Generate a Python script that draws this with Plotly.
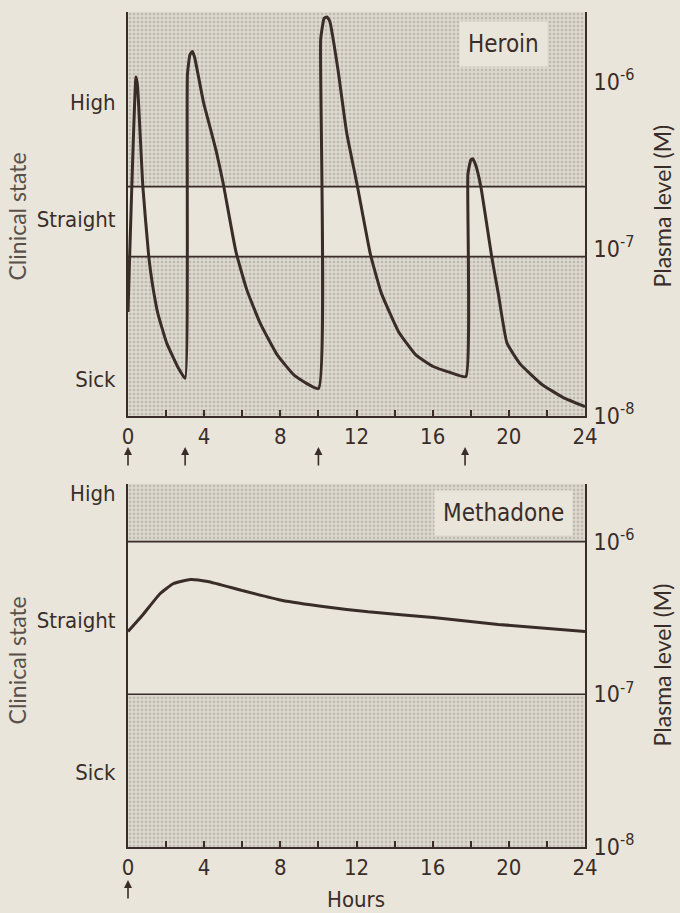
import numpy as np
import plotly.graph_objects as go

# ---------------- data ----------------
heroin_hours = [0.0, 0.42, 0.5, 0.78, 1.09, 1.28, 1.57, 2.03, 2.60, 3.0,
                3.12, 3.25, 3.38, 3.5, 3.96, 4.3, 4.64, 4.99, 5.67, 6.24, 6.92, 7.83, 8.74, 10.0,
                10.12, 10.3, 10.45, 10.6, 11.02, 11.48, 12.04, 12.73, 13.3, 14.2, 15.1, 16.03, 16.94, 17.74,
                17.85, 18.0, 18.1, 18.25, 18.53, 19.1, 19.44, 19.9, 20.58, 21.72, 22.86, 24.0]
heroin_plasma = [4.2e-8, 1.07e-6, 9.5e-7, 2.36e-7, 9.0e-8, 6.2e-8, 4.1e-8, 2.74e-8, 1.98e-8, 1.68e-8,
                 1.1e-6, 1.45e-6, 1.52e-6, 1.4e-6, 7.6e-7, 5.4e-7, 3.82e-7, 2.5e-7, 9.6e-8, 5.69e-8, 3.64e-8, 2.33e-8, 1.75e-8, 1.46e-8,
                 1.8e-6, 2.4e-6, 2.45e-6, 2.3e-6, 1.2e-6, 5.0e-7, 2.4e-7, 9.3e-8, 5.46e-8, 3.21e-8, 2.33e-8, 1.98e-8, 1.82e-8, 1.72e-8,
                 2.8e-7, 3.4e-7, 3.47e-7, 3.2e-7, 2.36e-7, 9.0e-8, 5.46e-8, 2.74e-8, 2.06e-8, 1.55e-8, 1.29e-8, 1.14e-8]
heroin_doses = [0, 3, 10, 17.7]

methadone_hours = [0, 0.77, 1.68, 2.37, 3.28, 4.19, 6.01, 8.06, 10.34, 12.61, 16.03, 19.44, 24]
methadone_plasma = [2.58e-7, 3.31e-7, 4.56e-7, 5.3e-7, 5.65e-7, 5.48e-7, 4.78e-7, 4.13e-7,
                    3.74e-7, 3.47e-7, 3.19e-7, 2.87e-7, 2.58e-7]
methadone_doses = [0]

# plasma-level axis limits and clinical-state thresholds (M)
heroin_limits = [1e-8, 2.62e-6]
heroin_thresholds = [9.0e-8, 2.36e-7]      # sick / straight / high boundaries
methadone_limits = [1e-8, 2.39e-6]
methadone_thresholds = [1e-7, 1e-6]

states = ["High", "Straight", "Sick"]
heroin_state_pos = [7.6e-7, 1.5e-7, 1.66e-8]
methadone_state_pos = [2.06e-6, 3.05e-7, 3.1e-8]

plasma_ticks = [1e-8, 1e-7, 1e-6]
plasma_ticktext = ["10<sup>-8</sup>", "10<sup>-7</sup>", "10<sup>-6</sup>"]
hour_ticks = [0, 4, 8, 12, 16, 20, 24]
hour_range = [0, 24]

# ---------------- style ----------------
PAPER = "#e9e5da"
INK = "#3a2d29"
STIPPLE = dict(shape=".", bgcolor="#dcd8cd", fgcolor="#9f9a91", size=4, solidity=0.35)
FONT = "Liberation Sans Narrow, DejaVu Sans Condensed, Arial Narrow, sans-serif"
TITLEFONT = "Lato, Open Sans, DejaVu Sans, sans-serif"

fig = go.Figure()


def add_panel(hours, plasma, limits, thr, xa, ya, ya_left):
    lo, hi = limits
    x0, x1 = hour_range
    # sick band
    fig.add_trace(go.Scatter(x=[x0, x1, x1, x0, x0], y=[lo, lo, thr[0], thr[0], lo],
                             fill="toself", fillcolor="#dcd8cd", fillpattern=STIPPLE,
                             mode="none", xaxis=xa, yaxis=ya, hoverinfo="skip"))
    # high band
    fig.add_trace(go.Scatter(x=[x0, x1, x1, x0, x0], y=[thr[1], thr[1], hi, hi, thr[1]],
                             fill="toself", fillcolor="#dcd8cd", fillpattern=STIPPLE,
                             mode="none", xaxis=xa, yaxis=ya, hoverinfo="skip"))
    # threshold lines (drawn on the clinical-state axis, same scale)
    for t in thr:
        fig.add_trace(go.Scatter(x=[x0, x1], y=[t, t], mode="lines",
                                 line=dict(color=INK, width=1.6), xaxis=xa, yaxis=ya_left,
                                 hoverinfo="skip"))
    # curve
    fig.add_trace(go.Scatter(x=hours, y=plasma, mode="lines",
                             line=dict(color=INK, width=3, shape="spline", smoothing=0.4),
                             xaxis=xa, yaxis=ya_left))


add_panel(heroin_hours, heroin_plasma, heroin_limits, heroin_thresholds, "x", "y", "y3")
add_panel(methadone_hours, methadone_plasma, methadone_limits, methadone_thresholds, "x2", "y2", "y4")

# layout geometry (pixels -> paper)
W, H = 680, 913
ML, MR, MT, MB = 128, 95, 10, 66
PH = H - MT - MB


def py(px):
    return (H - MB - px) / PH


def pxx(px):
    return (px - ML) / (W - ML - MR)


xaxis_common = dict(range=hour_range, tickvals=hour_ticks, ticks="inside", ticklen=6,
                    tickwidth=1.5, tickcolor=INK, showline=True, linecolor=INK, linewidth=2,
                    showgrid=False, zeroline=False, mirror=False,
                    minor=dict(dtick=2, ticks="inside", ticklen=6, tickwidth=1.5, tickcolor=INK, showgrid=False),
                    tickfont=dict(family=FONT, size=22, color=INK), ticklabelstandoff=0)


def yright(limits, dom, anchor):
    return dict(type="log", range=[np.log10(limits[0]), np.log10(limits[1])], domain=dom,
                side="right", anchor=anchor, tickvals=plasma_ticks, ticktext=plasma_ticktext,
                ticks="", showline=True, linecolor=INK, linewidth=2, showgrid=False,
                zeroline=False, tickfont=dict(family=FONT, size=23, color=INK), ticklabelstandoff=2)


def yleft(limits, over, anchor, pos):
    return dict(type="log", range=[np.log10(limits[0]), np.log10(limits[1])], overlaying=over,
                side="left", anchor=anchor, tickvals=pos, ticktext=states, ticks="",
                showline=True, linecolor=INK, linewidth=2, showgrid=False, zeroline=False,
                tickfont=dict(family=FONT, size=22, color=INK), ticklabelstandoff=6)


fig.update_layout(
    width=W, height=H, margin=dict(l=ML, r=MR, t=MT, b=MB),
    paper_bgcolor=PAPER, plot_bgcolor=PAPER, showlegend=False,
    xaxis=dict(domain=[0, 1], anchor="y", **xaxis_common),
    xaxis2=dict(domain=[0, 1], anchor="y2", **xaxis_common),
    yaxis=yright(heroin_limits, [py(415), 1.0], "x"),
    yaxis2=yright(methadone_limits, [0.0, py(483)], "x2"),
    yaxis3=yleft(heroin_limits, "y", "x", heroin_state_pos),
    yaxis4=yleft(methadone_limits, "y2", "x2", methadone_state_pos),
)

ann = []
# drug labels
ann.append(dict(text="Heroin", xref="paper", yref="paper", x=pxx(503), y=py(42),
                xanchor="center", yanchor="middle",
                showarrow=False, font=dict(family=FONT, size=24, color=INK),
                bgcolor=PAPER, borderpad=8))
ann.append(dict(text="Methadone", xref="paper", yref="paper", x=pxx(503), y=py(512),
                xanchor="center", yanchor="middle",
                showarrow=False, font=dict(family=FONT, size=24, color=INK),
                bgcolor=PAPER, borderpad=8))
# axis titles
for yc in (py(215), py(660)):
    ann.append(dict(text="Clinical state", xref="paper", yref="paper", x=pxx(17), y=yc,
                    xanchor="center", yanchor="middle",
                    textangle=-90, showarrow=False, font=dict(family=TITLEFONT, size=23, color="#5a504b")))
for yc in (py(205), py(665)):
    ann.append(dict(text="Plasma level (M)", xref="paper", yref="paper", x=pxx(662), y=yc,
                    xanchor="center", yanchor="middle",
                    textangle=-90, showarrow=False, font=dict(family=TITLEFONT, size=23, color=INK)))
ann.append(dict(text="Hours", xref="paper", yref="paper", x=pxx(356), y=py(900),
                xanchor="center", yanchor="middle",
                showarrow=False, font=dict(family=FONT, size=22, color=INK)))
# dose arrows
for d in heroin_doses:
    ann.append(dict(x=d, y=py(446), xref="x", yref="paper", text="", showarrow=True,
                    ax=0, ay=20, arrowhead=2, arrowsize=1, arrowwidth=1.6, arrowcolor=INK))
for d in methadone_doses:
    ann.append(dict(x=d, y=py(880), xref="x2", yref="paper", text="", showarrow=True,
                    ax=0, ay=20, arrowhead=2, arrowsize=1, arrowwidth=1.6, arrowcolor=INK))
fig.update_layout(annotations=ann)

fig.write_html("out.html")
